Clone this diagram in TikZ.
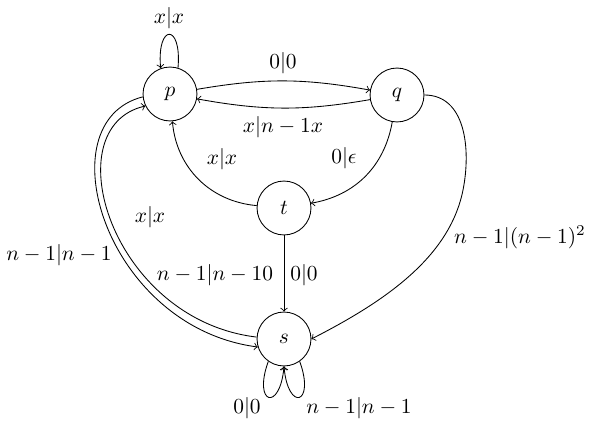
\documentclass[tikz,border=0pt]{standalone}
\begin{document}
\begin{tikzpicture}[x=0.4673pt,y=0.4673pt,
  st/.style={circle,draw,minimum size=25.2pt,inner sep=0pt},
  lab/.style={inner sep=0pt},
  arr/.style={->}]
\useasboundingbox (0,0) rectangle (593,427);
% states
\node[st] (p) at (170,333) {$p$};
\node[st] (q) at (397,332) {$q$};
\node[st] (t) at (284,219) {$t$};
\node[st] (s) at (284,88) {$s$};
\coordinate (qsm) at (463,237);
% connectors
\draw[arr] (p.73) .. controls +(85:45) and +(95:45) .. (p.110);
\draw[arr] (p) to[bend left=10] (q);
\draw[arr] (q) to[bend left=10] (p);
\draw[arr] (q) to[out=-100,in=10] (t);
\draw[arr] (t) to[out=175,in=-85] (p);
\draw[arr] (t) -- (s);
\draw[arr] (p.186) .. controls (44,305) and (105,100) .. (s.197);
\draw[arr] (s.176) .. controls (110.7,107.2) and (53.4,299.9) .. (p.206);
\draw[arr] (q.0) .. controls (466,332) and (471,277) .. (qsm)
  .. controls (449.3,168.4) and (382.3,124.3) .. (s.0);
\draw[arr] (s.-125) .. controls +(-110:46) and +(-95:46) .. (s.-90);
\draw[arr] (s.-55) .. controls +(-70:46) and +(-85:46) .. (s.-90);
% labels
\node[lab] (l1) at (169,409) {$x|x$};
\node[lab] (l2) at (283,364) {$0|0$};
\node[lab] (l3) at (283,300) {$x|n-1x$};
\node[lab] (l4) at (222,268) {$x|x$};
\node[lab] (l5) at (344,269) {$0|\epsilon$};
\node[lab] (l6) at (150,210) {$x|x$};
\node[lab] (l7) at (59,172) {$n-1|n-1$};
\node[lab] (l8) at (215,152) {$n-1|n-10$};
\node[lab] (l9) at (304,152) {$0|0$};
\node[lab] (l10) at (520,190) {$n-1|(n-1)^2$};
\node[lab] (l11) at (247,19) {$0|0$};
\node[lab] (l12) at (359,19) {$n-1|n-1$};
\end{tikzpicture}
\end{document}
